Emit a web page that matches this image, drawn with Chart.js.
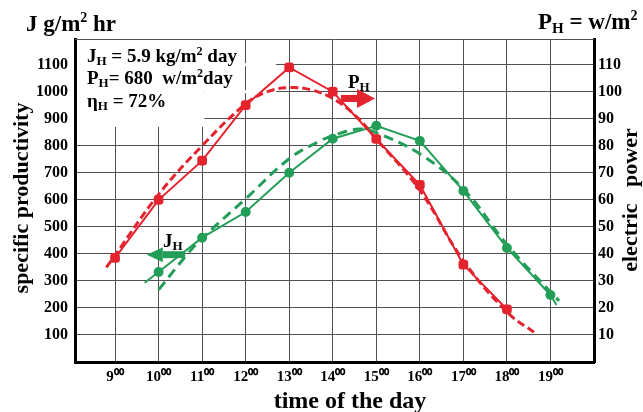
<!DOCTYPE html>
<html>
<head>
<meta charset="utf-8">
<script src="https://cdn.jsdelivr.net/npm/chart.js@4"></script>
<style>
  body { margin: 0; background: #fff; }
</style>
</head>
<body>
<canvas id="chart" width="643" height="412"></canvas>
<script>
// hours on the x axis
const hourTicks = [9, 10, 11, 12, 13, 14, 15, 16, 17, 18, 19];
const leftTicks = [100, 200, 300, 400, 500, 600, 700, 800, 900, 1000, 1100];
const rightTicks = [10, 20, 30, 40, 50, 60, 70, 80, 90, 100, 110];

// P_H measured (electric power, right axis)
const phHours = [9, 10, 11, 12, 13, 14, 15, 16, 17, 18];
const phValues = [38.5, 60, 74.5, 95, 109, 100, 82.5, 65.5, 36, 19.5];
// P_H fitted curve (dashed)
const phFitHours = [8.8, 9, 10, 11, 12, 12.5, 13, 13.5, 14, 14.5, 15, 16, 17, 18, 18.62];
const phFitValues = [35, 39.5, 62, 80, 95.5, 100, 101.5, 100.7, 97.5, 91.5, 82.5, 63.5, 37.5, 18.5, 11];

// J_H measured (specific productivity, left axis) - line runs a bit past first/last point
const jhHours = [9.68, 10, 11, 12, 13, 14, 15, 16, 17, 18, 19, 19.14];
const jhValues = [293, 333, 460, 555, 700, 826, 874, 818, 633, 422, 248, 211];
const jhMarked = [false, true, true, true, true, true, true, true, true, true, true, false];
// J_H fitted curve (dashed)
const jhFitHours = [10, 10.63, 11, 12, 13, 13.67, 14, 14.6, 15, 16, 17, 18, 19, 19.2];
const jhFitValues = [267, 393, 458, 604, 752, 815, 837, 862, 848, 770, 640, 435, 259, 226];

const RED = '#e3232e';
const GREEN = '#239e58';
const GRID = '#505050';
const SERIF = '"Liberation Serif", "Times New Roman", serif';

const pts = (xs, ys) => xs.map((x, i) => ({ x, y: ys[i] }));

function rich(ctx, x, y, parts) {
  let cx = x;
  parts.forEach(p => {
    ctx.font = 'bold ' + p.s + 'px ' + SERIF;
    ctx.fillText(p.t, cx, y + (p.dy || 0));
    cx += ctx.measureText(p.t).width;
  });
}

function arrow(ctx, x0, x1, y, color, shaft, headH, headL) {
  const dir = x1 > x0 ? 1 : -1;
  const hb = x1 - dir * headL;
  ctx.fillStyle = color;
  ctx.fillRect(Math.min(x0, hb), y - shaft / 2, Math.abs(hb - x0), shaft);
  ctx.beginPath();
  ctx.moveTo(x1, y);
  ctx.lineTo(hb, y - headH / 2);
  ctx.lineTo(hb, y + headH / 2);
  ctx.closePath();
  ctx.fill();
}

const decor = {
  id: 'decor',
  beforeDatasetsDraw(chart) {
    const { ctx, chartArea: a, scales } = chart;
    const x = scales.x, yl = scales.y;
    ctx.save();
    // top frame line
    ctx.strokeStyle = GRID;
    ctx.lineWidth = 1;
    ctx.beginPath();
    ctx.moveTo(a.left, a.top + 0.5);
    ctx.lineTo(a.right, a.top + 0.5);
    ctx.stroke();
    // blank area behind the text block
    ctx.fillStyle = '#fff';
    const bx = x.getPixelForValue(11.05), by = yl.getPixelForValue(870);
    ctx.fillRect(a.left + 2, a.top + 1, bx - a.left - 2, by - a.top - 1);
    const ex = x.getPixelForValue(12.7);
    [1100, 1000].forEach(v => {
      const py = yl.getPixelForValue(v);
      ctx.fillRect(bx, py - 1.5, ex - bx, 3);
    });
    ctx.restore();
  },
  afterDatasetsDraw(chart) {
    const { ctx, scales } = chart;
    const x = scales.x, yl = scales.y, yr = scales.y2;
    ctx.save();
    ctx.textBaseline = 'alphabetic';
    // P_H arrow
    arrow(ctx, x.getPixelForValue(14.19), x.getPixelForValue(14.97), yr.getPixelForValue(97.5), RED, 7, 19, 18);
    ctx.fillStyle = '#000';
    rich(ctx, x.getPixelForValue(14.35), yr.getPixelForValue(101.5), [{ t: 'P', s: 19 }, { t: 'H', s: 13, dy: 3 }]);
    // J_H arrow
    arrow(ctx, x.getPixelForValue(10.61), x.getPixelForValue(9.73), yl.getPixelForValue(397), GREEN, 7, 15, 16);
    ctx.fillStyle = '#000';
    rich(ctx, x.getPixelForValue(10.1), yl.getPixelForValue(426), [{ t: 'J', s: 19 }, { t: 'H', s: 13, dy: 3 }]);
    ctx.restore();
  },
  afterDraw(chart) {
    const { ctx } = chart;
    ctx.save();
    ctx.fillStyle = '#000';
    ctx.textBaseline = 'alphabetic';
    ctx.textAlign = 'left';
    // unit labels
    rich(ctx, 26, 31, [{ t: 'J g/m', s: 23 }, { t: '2', s: 14, dy: -9 }, { t: ' hr', s: 23 }]);
    rich(ctx, 538, 29, [{ t: 'P', s: 23 }, { t: 'H', s: 15, dy: 4 }, { t: ' = w/m', s: 23 }, { t: '2', s: 14, dy: -9 }]);
    // text block
    rich(ctx, 87, 62, [{ t: 'J', s: 19 }, { t: 'H', s: 13, dy: 3 }, { t: ' = 5.9 kg/m', s: 19 }, { t: '2', s: 12, dy: -7 }, { t: ' day', s: 19 }]);
    rich(ctx, 87, 84, [{ t: 'P', s: 19 }, { t: 'H', s: 13, dy: 3 }, { t: '= 680  w/m', s: 19 }, { t: '2', s: 12, dy: -7 }, { t: 'day', s: 19 }]);
    rich(ctx, 87, 107, [{ t: 'η', s: 19 }, { t: 'H', s: 13, dy: 3 }, { t: ' = 72%', s: 19 }]);
    // axis titles
    ctx.textAlign = 'center';
    ctx.textBaseline = 'middle';
    ctx.font = 'bold 22px ' + SERIF;
    ctx.save();
    ctx.translate(22, 198);
    ctx.rotate(-Math.PI / 2);
    ctx.fillText('specific productivity', 0, 0);
    ctx.restore();
    ctx.save();
    ctx.translate(631, 200);
    ctx.rotate(-Math.PI / 2);
    ctx.fillText('electric   power', 0, 0);
    ctx.restore();
    ctx.font = 'bold 24px ' + SERIF;
    ctx.textBaseline = 'alphabetic';
    ctx.fillText('time of the day', 350, 408);
    ctx.restore();
  }
};

new Chart(document.getElementById('chart'), {
  type: 'line',
  data: {
    datasets: [
      {
        label: 'P_H',
        data: pts(phHours, phValues),
        yAxisID: 'y2',
        borderColor: RED,
        backgroundColor: RED,
        borderWidth: 2,
        pointStyle: 'rectRounded',
        pointRadius: 4.5,
        tension: 0
      },
      {
        label: 'P_H fit',
        data: pts(phFitHours, phFitValues),
        yAxisID: 'y2',
        borderColor: RED,
        borderWidth: 3,
        borderDash: [8, 4],
        pointRadius: 0,
        tension: 0.4
      },
      {
        label: 'J_H',
        data: pts(jhHours, jhValues),
        yAxisID: 'y',
        borderColor: GREEN,
        backgroundColor: GREEN,
        borderWidth: 2,
        pointRadius: jhMarked.map(m => m ? 4 : 0),
        tension: 0
      },
      {
        label: 'J_H fit',
        data: pts(jhFitHours, jhFitValues),
        yAxisID: 'y',
        borderColor: GREEN,
        borderWidth: 3,
        borderDash: [10, 6],
        pointRadius: 0,
        tension: 0.4
      }
    ]
  },
  options: {
    responsive: false,
    animation: false,
    layout: { padding: { top: 39, left: 0, right: 0, bottom: 0 } },
    plugins: { legend: { display: false }, tooltip: { enabled: false } },
    scales: {
      x: {
        type: 'linear',
        min: 8.08,
        max: 20,
        afterBuildTicks: s => { s.ticks = hourTicks.map(v => ({ value: v })); },
        afterFit: s => { s.height = 50; },
        grid: { color: GRID, lineWidth: 1, drawTicks: false },
        border: { color: '#000', width: 3 },
        ticks: {
          autoSkip: false,
          maxRotation: 0,
          padding: 6,
          color: '#000',
          font: { family: SERIF, size: 15, weight: 'bold' },
          callback: v => v + '⁰⁰'
        }
      },
      y: {
        position: 'left',
        min: 0,
        max: 1195,
        afterBuildTicks: s => { s.ticks = leftTicks.map(v => ({ value: v })); },
        afterFit: s => { s.width = 75; },
        grid: { color: GRID, lineWidth: 1, drawTicks: false },
        border: { color: '#000', width: 3 },
        ticks: {
          padding: 7,
          color: '#000',
          font: { family: SERIF, size: 16, weight: 'bold' },
          callback: v => String(v)
        }
      },
      y2: {
        position: 'right',
        min: 0,
        max: 119.5,
        afterBuildTicks: s => { s.ticks = rightTicks.map(v => ({ value: v })); },
        afterFit: s => { s.width = 49; },
        grid: { display: false, drawTicks: false },
        border: { color: '#000', width: 3 },
        ticks: {
          padding: 4,
          color: '#000',
          font: { family: SERIF, size: 16, weight: 'bold' },
          callback: v => String(v)
        }
      }
    }
  },
  plugins: [decor]
});
</script>
</body>
</html>
